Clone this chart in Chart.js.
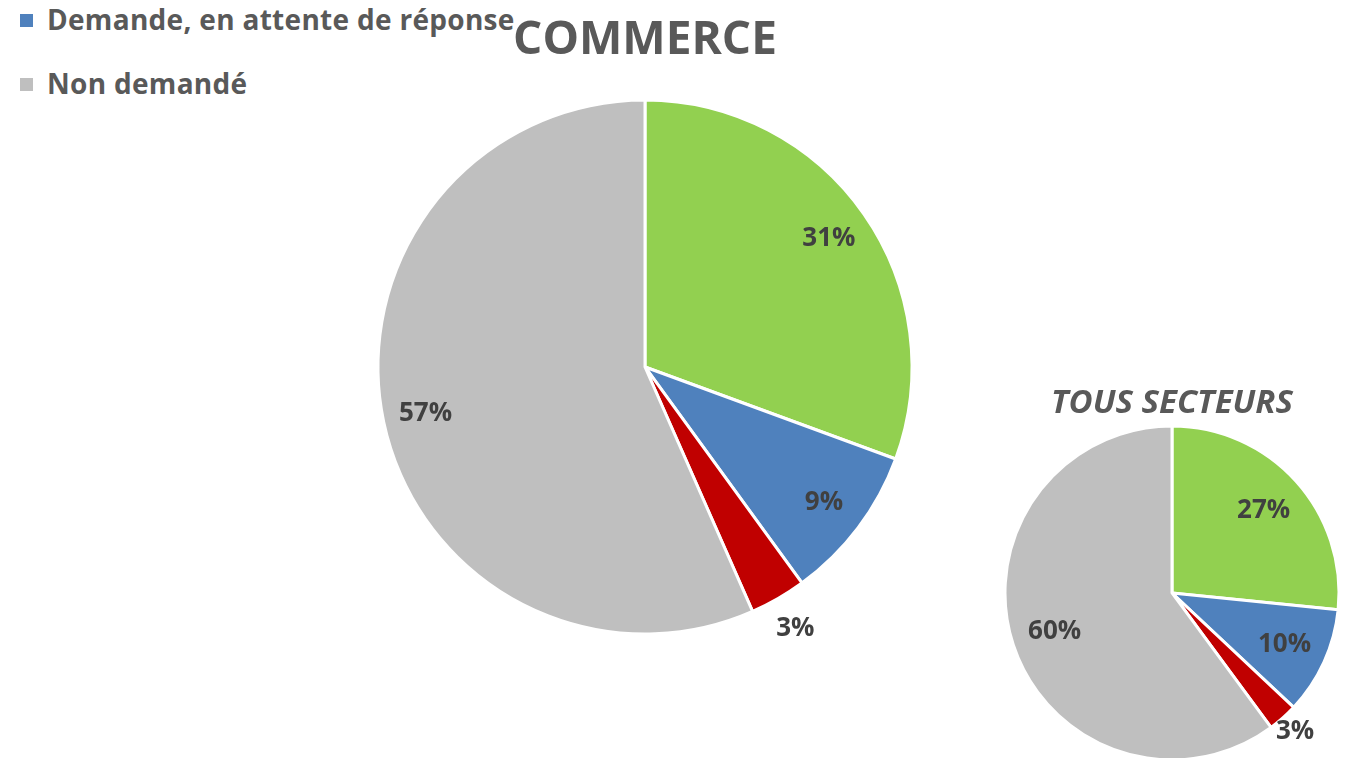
<!DOCTYPE html>
<html lang="fr"><head>
<meta charset="utf-8">
<title>Commerce vs tous secteurs</title>
<style>
* { margin: 0; padding: 0 }
html, body { width: 1357px; height: 758px; overflow: hidden; background: #fff; }
body { position: relative; font-family: "Open Sans", sans-serif; }

#BigBox { position: absolute; left: 345px; top: 0px; width: 600px; height: 664px; }
#SmallBox { position: absolute; left: 992px; top: 386px; width: 360px; height: 378px; }

#Legend { position: absolute; left: 20px; top: 0px; }
.legItem { position: absolute; left: 0px; white-space: nowrap; font-weight: bold; font-size: 28px; letter-spacing: 0.3px; color: #595959; line-height: 38px; }
.legItem span.sw { display: inline-block; width: 13px; height: 13px; margin-right: 14px; vertical-align: 3px; }
</style>
<script src="https://cdn.jsdelivr.net/npm/chart.js"></script>
<script>

// slices, clockwise from 12 o'clock
const categories = ["Accordé", "Demande, en attente de réponse", "Refusé", "Non demandé"];
const colors = ["#92D050", "#4F81BD", "#C00000", "#BFBFBF"];
const commerce = [30.6, 9.4, 3.4, 56.6];
const tousSecteurs = [26.6, 10.4, 2.9, 60.1];
// only the bottom of the legend is visible in the picture
const legendShown = [1, 3];

function get(id) {
    return document.getElementById(id);
}

// draws "NN%" labels, inside the slice or just outside it for tiny slices
const pctLabels = {
    id: "pctLabels",
    afterDatasetsDraw(chart, args, opts) {
        const ctx = chart.ctx;
        const meta = chart.getDatasetMeta(0);
        const data = chart.data.datasets[0].data;
        ctx.save();
        ctx.font = "bold " + opts.size + "px 'Open Sans', sans-serif";
        ctx.fillStyle = "#404040";
        ctx.textAlign = "center";
        ctx.textBaseline = "middle";
        meta.data.forEach(function(arc, i) {
            const mid = (arc.startAngle + arc.endAngle) / 2;
            const k = data[i] < 5 ? opts.outside : opts.inside;
            const x = arc.x + Math.cos(mid) * arc.outerRadius * k;
            const y = arc.y + Math.sin(mid) * arc.outerRadius * k;
            ctx.fillText(Math.round(data[i]) + "%", x, y);
        });
        ctx.restore();
    }
};

function makePie(canvasId, values, title, titleFont, titlePad, radius, labelOpts) {
    return new Chart(get(canvasId), {
        type: "pie",
        data: {
            labels: categories,
            datasets: [{
                data: values,
                backgroundColor: colors,
                borderColor: "#ffffff",
                borderWidth: 3,
                hoverOffset: 0,
            }],
        },
        options: {
            responsive: false,
            animation: false,
            radius: radius,
            layout: { padding: 0 },
            events: [],
            plugins: {
                legend: { display: false },
                tooltip: { enabled: false },
                title: {
                    display: true,
                    text: title,
                    color: "#595959",
                    font: titleFont,
                    padding: { top: titlePad, bottom: 0 },
                },
                pctLabels: labelOpts,
            },
        },
        plugins: [pctLabels],
    });
}

function bodyOnLoad() {
    let html = "";
    legendShown.forEach(function(idx, row) {
        html += '<div class="legItem" style="top:' + (0 + row * 64) + 'px">' +
            '<span class="sw" style="background:' + colors[idx] + '"></span>' +
            categories[idx] + '</div>';
    });
    get("Legend").innerHTML = html;

    makePie("BigChart", commerce, "COMMERCE",
        { family: "'Open Sans', sans-serif", size: 46, weight: "bold", lineHeight: 1.26 }, 12,
        267, { size: 26, inside: 0.84, outside: 1.13 });

    makePie("SmallChart", tousSecteurs, "TOUS SECTEURS",
        { family: "'Open Sans', sans-serif", size: 33, weight: "bold", style: "italic", lineHeight: 1.09 }, 0,
        167, { size: 26, inside: 0.74, outside: 1.11 });
}

</script>
</head><body onload="bodyOnLoad()">

<div id="Legend"></div>
<div id="BigBox"><canvas id="BigChart" width="600" height="664"></canvas></div>
<div id="SmallBox"><canvas id="SmallChart" width="360" height="378"></canvas></div>

</body></html>
